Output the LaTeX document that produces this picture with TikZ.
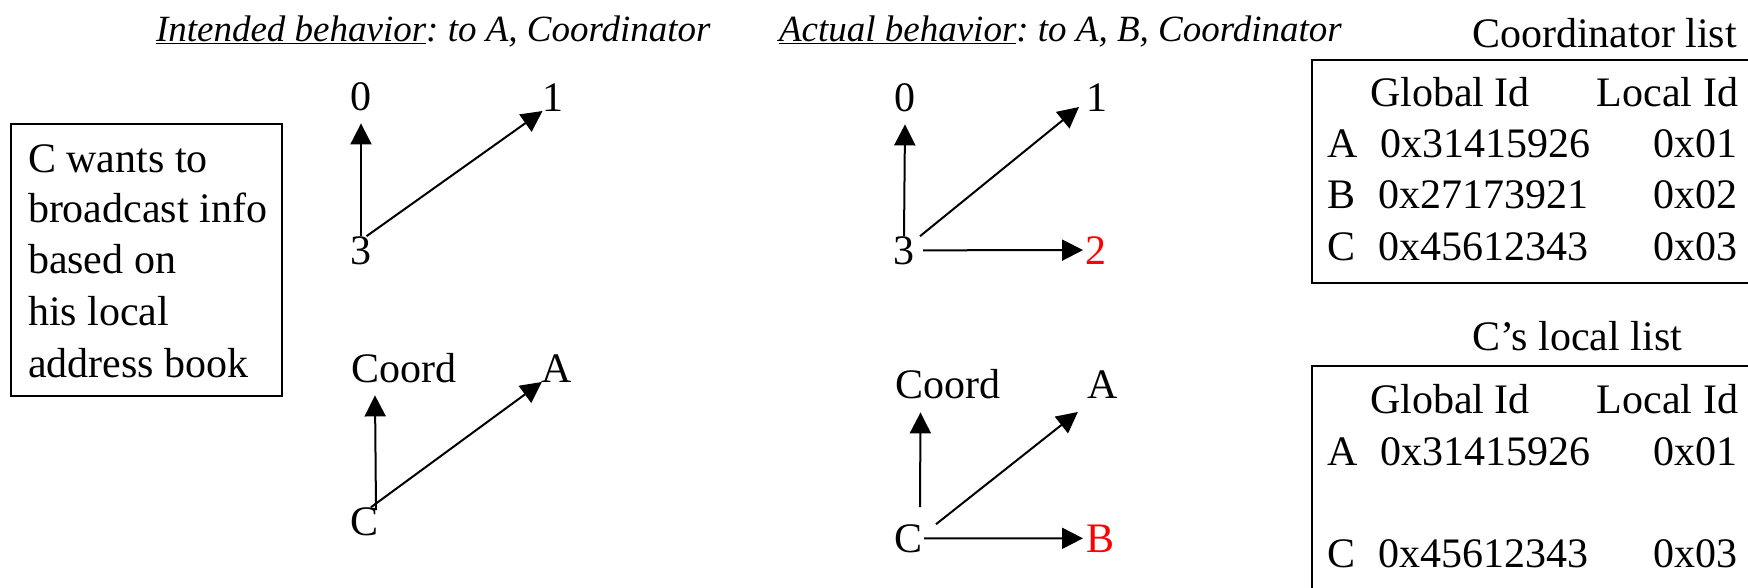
\documentclass[tikz,border=0pt]{standalone}
\usepackage{fontspec}
\setmainfont{Liberation Serif}
\usetikzlibrary{arrows.meta}
\frenchspacing
\begin{document}
\begin{tikzpicture}[x=1pt,y=-1pt,
  lbl/.style={inner sep=0pt, outer sep=0pt, anchor=base, font=\fontsize{42}{50}\selectfont},
  txt/.style={inner sep=0pt, outer sep=0pt, anchor=base west, font=\fontsize{42}{50}\selectfont},
  txte/.style={inner sep=0pt, outer sep=0pt, anchor=base east, font=\fontsize{42}{50}\selectfont},
  ttl/.style={inner sep=0pt, outer sep=0pt, anchor=base west, font=\fontsize{37}{44}\selectfont\itshape\frenchspacing},
  arr/.style={line width=2pt, -{Triangle[length=21pt,width=21pt]}},
  box/.style={line width=2pt},
  hot/.style={text=red}]
\useasboundingbox (0,0) rectangle (1748,587);
\clip (0,0) rectangle (1748,587);

% titles
\node[ttl] (t1) at (156,41) {\underline{Intended behavior}: to A, Coordinator};
\node[ttl] (t2) at (779,41) {\underline{Actual behavior}: to A, B, Coordinator};

% note box
\node[draw, box, inner sep=0pt, minimum width=271pt, minimum height=272pt, anchor=north west] (note) at (10,123) {};
\node[txt] (n1) at (28,172) {C wants to};
\node[txt] (n2) at (28,222) {broadcast info};
\node[txt] (n3) at (28,273) {based on};
\node[txt] (n4) at (28,325) {his local};
\node[txt] (n5) at (28,377) {address book};

% intended, top
\node[lbl] (i0) at (361,110) {0};
\node[lbl] (i1) at (553,111) {1};
\node[lbl] (i3) at (361,264) {3};
\draw[arr] (i3.north) -- ([yshift=-13pt]i0.south);
\draw[arr] ([xshift=-5pt]i3.north east) -- (i1.south west);

% intended, bottom
\node[lbl] (iCoord) at (403.5,382) {Coord};
\node[lbl] (iA) at (557,382) {A};
\node[lbl] (iC) at (365,535) {C};
\draw[arr] ([xshift=11pt,yshift=-3pt]iC.north) -- ([xshift=24pt,yshift=-13pt]iCoord.south west);
\draw[arr] ([xshift=-8pt]iC.north east) -- (iA.south west);

% actual, top
\node[lbl] (a0) at (905,111) {0};
\node[lbl] (a1) at (1097,111) {1};
\node[lbl] (a3) at (904,264) {3};
\node[lbl, hot] (a2) at (1096,264) {2};
\draw[arr] (a3.north) -- ([yshift=-13pt]a0.south);
\draw[arr] ([xshift=5.5pt]a3.north east) -- ([xshift=-7.5pt,yshift=4pt]a1.south west);
\draw[arr] ([xshift=8.5pt]a3.east) -- ([xshift=-2.5pt]a2.west);

% actual, bottom
\node[lbl] (aCoord) at (948,398) {Coord};
\node[lbl] (aA) at (1103,398) {A};
\node[lbl] (aC) at (908,552) {C};
\node[lbl, hot] (aB) at (1100,552) {B};
\draw[arr] ([xshift=12pt,yshift=17pt]aC.north) -- ([xshift=25pt,yshift=-14pt]aCoord.south west);
\draw[arr] ([xshift=14pt]aC.north east) -- ([xshift=-10pt,yshift=-14pt]aA.south west);
\draw[arr] ([xshift=2pt]aC.east) -- ([xshift=-3pt]aB.west);

% coordinator list
\node[txt] (c0) at (1472,47) {Coordinator list};
\draw[box] (1312,60) rectangle (1800,283);
\node[txt] (ch1) at (1370,106) {Global Id};
\node[txte] (ch2) at (1738,106) {Local Id};
\node[txt] (cra) at (1327,157) {A};
\node[txt] (crag) at (1380,157) {0x31415926};
\node[txte] (cral) at (1737,157) {0x01};
\node[txt] (crb) at (1327,208) {B};
\node[txt] (crbg) at (1378,208) {0x27173921};
\node[txte] (crbl) at (1737,208) {0x02};
\node[txt] (crc) at (1327,260) {C};
\node[txt] (crcg) at (1378,260) {0x45612343};
\node[txte] (crcl) at (1737,260) {0x03};

% C's local list
\node[txt] (l0) at (1472,350) {C’s local list};
\draw[box] (1312,366) rectangle (1800,700);
\node[txt] (lh1) at (1370,413) {Global Id};
\node[txte] (lh2) at (1738,413) {Local Id};
\node[txt] (lra) at (1327,465) {A};
\node[txt] (lrag) at (1380,465) {0x31415926};
\node[txte] (lral) at (1737,465) {0x01};
\node[txt] (lrc) at (1327,567) {C};
\node[txt] (lrcg) at (1378,567) {0x45612343};
\node[txte] (lrcl) at (1737,567) {0x03};
\end{tikzpicture}
\end{document}
